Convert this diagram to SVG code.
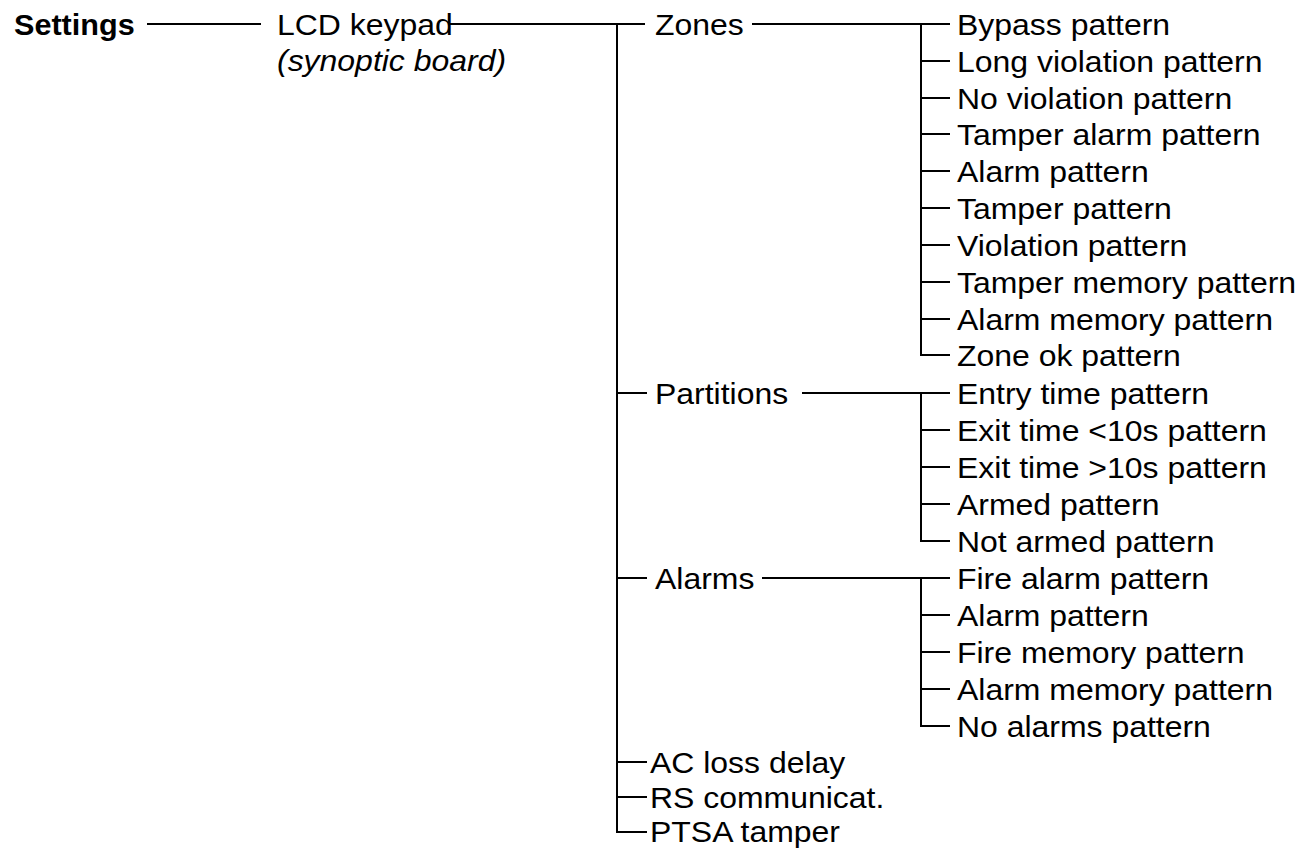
<svg xmlns="http://www.w3.org/2000/svg" width="1303" height="849" viewBox="0 0 1303 849">
<style>
text{font-family:"Liberation Sans",Arial,sans-serif;font-size:30px;fill:#000}
.b{font-weight:bold}
.i{font-style:italic}
.c line,.c path{stroke:#000;stroke-width:2;fill:none}
</style>
<rect width="1303" height="849" fill="#fff"/>
<g class="c" id="connectors">
<line x1="147" y1="24" x2="261" y2="24"/>
<line x1="450" y1="24" x2="645" y2="24"/>
<path d="M617 24 V832 H647"/>
<line x1="617" y1="393" x2="647" y2="393"/>
<line x1="617" y1="578" x2="647" y2="578"/>
<line x1="617" y1="762" x2="647" y2="762"/>
<line x1="617" y1="797" x2="647" y2="797"/>
<line x1="752" y1="24" x2="950" y2="24"/>
<path d="M921 24 V355 H950"/>
<line x1="921" y1="61" x2="950" y2="61"/>
<line x1="921" y1="98" x2="950" y2="98"/>
<line x1="921" y1="134" x2="950" y2="134"/>
<line x1="921" y1="171" x2="950" y2="171"/>
<line x1="921" y1="208" x2="950" y2="208"/>
<line x1="921" y1="245" x2="950" y2="245"/>
<line x1="921" y1="282" x2="950" y2="282"/>
<line x1="921" y1="319" x2="950" y2="319"/>
<line x1="802" y1="393" x2="950" y2="393"/>
<path d="M921 393 V541 H950"/>
<line x1="921" y1="430" x2="950" y2="430"/>
<line x1="921" y1="467" x2="950" y2="467"/>
<line x1="921" y1="504" x2="950" y2="504"/>
<line x1="762" y1="578" x2="950" y2="578"/>
<path d="M921 578 V726 H950"/>
<line x1="921" y1="615" x2="950" y2="615"/>
<line x1="921" y1="652" x2="950" y2="652"/>
<line x1="921" y1="689" x2="950" y2="689"/>
</g>
<g id="settings"><text class="b" transform="translate(14,35) scale(1.02,1)">Settings</text></g>
<g id="lcd"><text transform="translate(277,35) scale(1.065,1)">LCD keypad</text><text class="i" transform="translate(277,71) scale(1.065,1)">(synoptic board)</text></g>
<g id="zones"><text transform="translate(655,35) scale(1.065,1)">Zones</text></g>
<g id="partitions"><text transform="translate(655,404) scale(1.065,1)">Partitions</text></g>
<g id="alarms"><text transform="translate(655,589) scale(1.065,1)">Alarms</text></g>
<g id="acloss"><text transform="translate(650,773) scale(1.065,1)">AC loss delay</text></g>
<g id="rscomm"><text transform="translate(650,808) scale(1.065,1)">RS communicat.</text></g>
<g id="ptsa"><text transform="translate(650,842) scale(1.065,1)">PTSA tamper</text></g>
<g id="z1"><text transform="translate(957,35) scale(1.065,1)">Bypass pattern</text></g>
<g id="z2"><text transform="translate(957,72) scale(1.065,1)">Long violation pattern</text></g>
<g id="z3"><text transform="translate(957,109) scale(1.065,1)">No violation pattern</text></g>
<g id="z4"><text transform="translate(957,145) scale(1.065,1)">Tamper alarm pattern</text></g>
<g id="z5"><text transform="translate(957,182) scale(1.065,1)">Alarm pattern</text></g>
<g id="z6"><text transform="translate(957,219) scale(1.065,1)">Tamper pattern</text></g>
<g id="z7"><text transform="translate(957,256) scale(1.065,1)">Violation pattern</text></g>
<g id="z8"><text transform="translate(957,293) scale(1.065,1)">Tamper memory pattern</text></g>
<g id="z9"><text transform="translate(957,330) scale(1.065,1)">Alarm memory pattern</text></g>
<g id="z10"><text transform="translate(957,366) scale(1.065,1)">Zone ok pattern</text></g>
<g id="p1"><text transform="translate(957,404) scale(1.065,1)">Entry time pattern</text></g>
<g id="p2"><text transform="translate(957,441) scale(1.065,1)">Exit time &lt;10s pattern</text></g>
<g id="p3"><text transform="translate(957,478) scale(1.065,1)">Exit time &gt;10s pattern</text></g>
<g id="p4"><text transform="translate(957,515) scale(1.065,1)">Armed pattern</text></g>
<g id="p5"><text transform="translate(957,552) scale(1.065,1)">Not armed pattern</text></g>
<g id="a1"><text transform="translate(957,589) scale(1.065,1)">Fire alarm pattern</text></g>
<g id="a2"><text transform="translate(957,626) scale(1.065,1)">Alarm pattern</text></g>
<g id="a3"><text transform="translate(957,663) scale(1.065,1)">Fire memory pattern</text></g>
<g id="a4"><text transform="translate(957,700) scale(1.065,1)">Alarm memory pattern</text></g>
<g id="a5"><text transform="translate(957,737) scale(1.065,1)">No alarms pattern</text></g>
</svg>
